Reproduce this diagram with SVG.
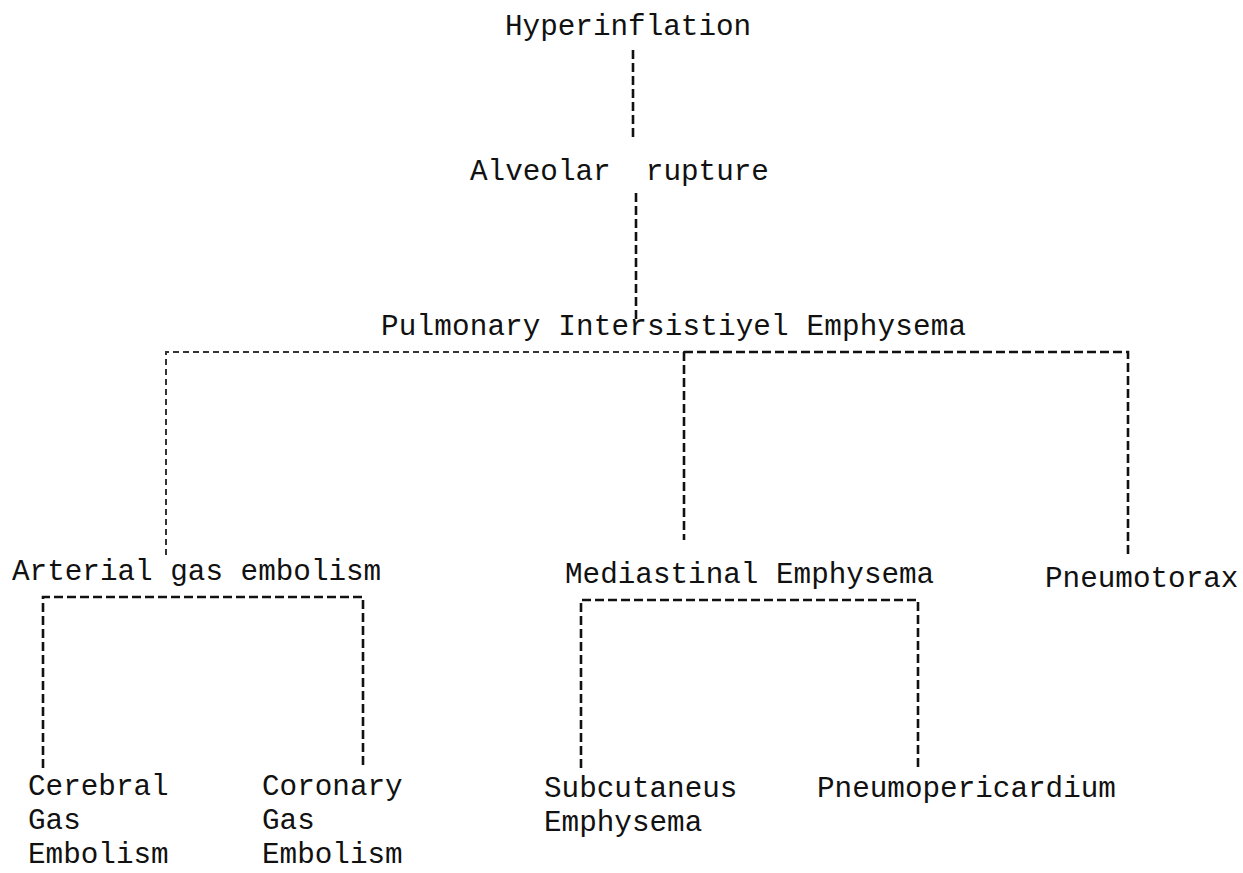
<svg xmlns="http://www.w3.org/2000/svg" width="1243" height="873" viewBox="0 0 1243 873">
<style>
text{font-family:"Liberation Mono","DejaVu Sans Mono",monospace;font-size:29.3px;fill:#111}
.c{fill:none;stroke:#111;stroke-width:2.6;stroke-dasharray:9 4}
.f{fill:none;stroke:#333;stroke-width:2;stroke-dasharray:6 4}
</style>
<rect width="1243" height="873" fill="#fff"/>
<g id="connectors">
<path class="c" d="M633 50V137"/>
<path class="c" d="M636 193V322"/>
<path class="f" d="M166 555V352H684"/>
<path class="c" d="M684 352H1128V558"/>
<path class="c" d="M684 352V540"/>
<path class="c" d="M43 768V597H363V768"/>
<path class="c" d="M581 768V600H918V768"/>
</g>
<g id="hyperinflation"><text x="505" y="35">Hyperinflation</text></g>
<g id="alveolar"><text x="470" y="180" xml:space="preserve">Alveolar  rupture</text></g>
<g id="pie"><text x="381" y="335" textLength="585">Pulmonary Intersistiyel Emphysema</text></g>
<g id="arterial"><text x="12" y="580">Arterial gas embolism</text></g>
<g id="mediastinal"><text x="565" y="583">Mediastinal Emphysema</text></g>
<g id="pneumotorax"><text x="1045" y="587">Pneumotorax</text></g>
<g id="cerebral"><text x="28" y="795">Cerebral</text><text x="28" y="829">Gas</text><text x="28" y="863">Embolism</text></g>
<g id="coronary"><text x="262" y="795">Coronary</text><text x="262" y="829">Gas</text><text x="262" y="863">Embolism</text></g>
<g id="subcutaneus"><text x="544" y="797">Subcutaneus</text><text x="544" y="831">Emphysema</text></g>
<g id="pneumopericardium"><text x="817" y="797">Pneumopericardium</text></g>
</svg>
